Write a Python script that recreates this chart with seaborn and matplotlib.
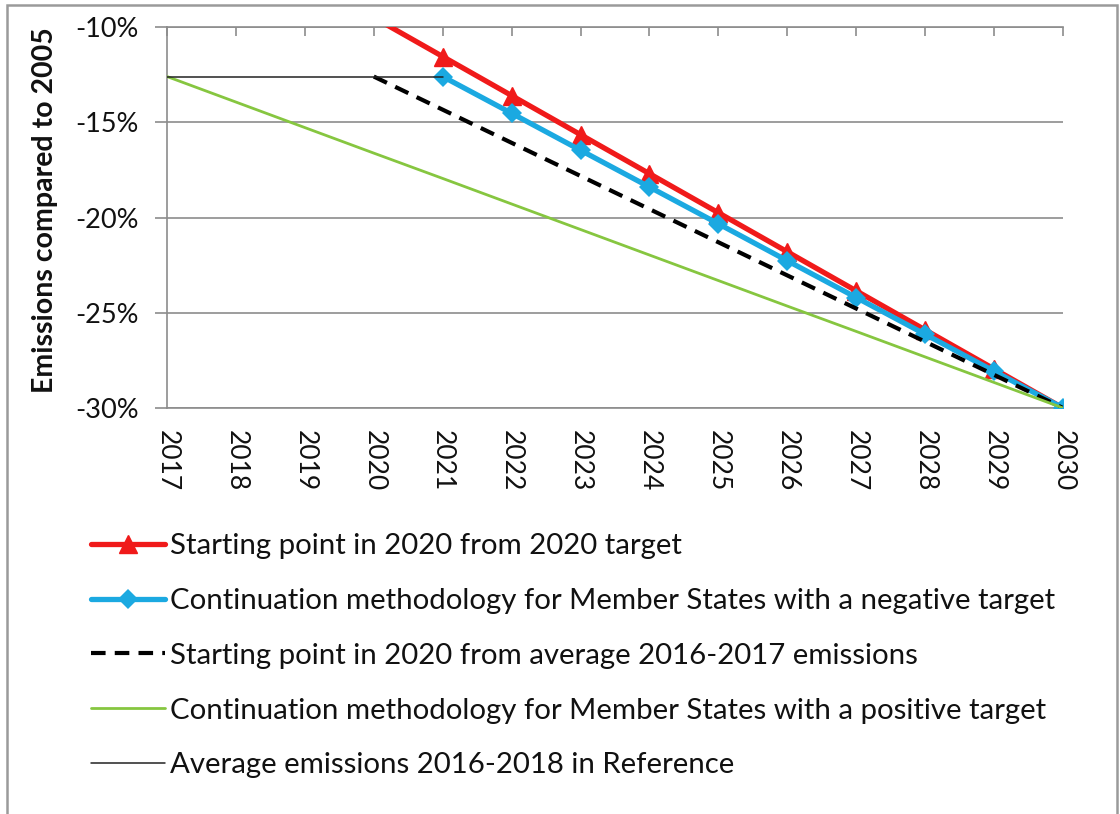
import numpy as np
import pandas as pd
import matplotlib
matplotlib.use("Agg")
import matplotlib.pyplot as plt
import seaborn as sns
from matplotlib.patches import Rectangle
from matplotlib.lines import Line2D
from matplotlib.ticker import FuncFormatter

# Emission trajectories, % change compared to 2005
years_all = [2017, 2018, 2019, 2020, 2021, 2022, 2023, 2024, 2025, 2026, 2027, 2028, 2029, 2030]

red_years = [2020, 2021, 2022, 2023, 2024, 2025, 2026, 2027, 2028, 2029, 2030]
red_vals = [-9.5, -11.55, -13.6, -15.65, -17.7, -19.75, -21.8, -23.85, -25.9, -27.95, -30.0]

blue_years = [2021, 2022, 2023, 2024, 2025, 2026, 2027, 2028, 2029, 2030]
blue_vals = [-12.6, -14.53, -16.47, -18.4, -20.33, -22.27, -24.2, -26.13, -28.07, -30.0]

dash_years = [2020, 2021, 2022, 2023, 2024, 2025, 2026, 2027, 2028, 2029, 2030]
dash_vals = [-12.6, -14.34, -16.08, -17.82, -19.56, -21.3, -23.04, -24.78, -26.52, -28.26, -30.0]

green_years = years_all
green_vals = [-12.6, -13.94, -15.28, -16.62, -17.95, -19.29, -20.63, -21.97, -23.31, -24.65, -25.98,
              -27.32, -28.66, -30.0]

avg_years = [2017, 2018, 2019, 2020, 2021]
avg_vals = [-12.6, -12.6, -12.6, -12.6, -12.6]

labels = [
    "Starting point in 2020 from 2020 target",
    "Continuation methodology for Member States with a negative target",
    "Starting point in 2020 from average 2016-2017 emissions",
    "Continuation methodology for Member States with a positive target",
    "Average emissions 2016-2018 in Reference",
]

y_ticks = [-30, -25, -20, -15, -10]

sns.set_theme(style="white")
plt.rcParams["font.family"] = ["Lato", "DejaVu Sans"]

fig = plt.figure(figsize=(11.2, 8.14), dpi=100)
ax = fig.add_axes([167 / 1120, 1 - 408 / 814, (1063 - 167) / 1120, (408 - 27) / 814])

red_c = "#F01A1A"
blue_c = "#1BA9E1"
green_c = "#86C640"
avg_c = "#222222"
grid_c = "#8C8C8C"
text_c = "#111111"

sns.lineplot(x=red_years, y=red_vals, ax=ax, color=red_c, linewidth=3.8, label=labels[0],
             zorder=3)
ax.plot(red_years[1:], red_vals[1:], linestyle="none", marker="^", markersize=12.5,
        color=red_c, zorder=3)
sns.lineplot(x=blue_years, y=blue_vals, ax=ax, color=blue_c, linewidth=3.8, marker="D",
             markersize=10, markeredgewidth=0, label=labels[1], zorder=4)
sns.lineplot(x=dash_years, y=dash_vals, ax=ax, color="black", linewidth=3.0,
             dashes=(3.5, 2.2), label=labels[2], zorder=5)
sns.lineplot(x=green_years, y=green_vals, ax=ax, color=green_c, linewidth=2.0,
             label=labels[3], zorder=6)
sns.lineplot(x=avg_years, y=avg_vals, ax=ax, color=avg_c, linewidth=1.1,
             label=labels[4], zorder=7)

ax.set_xlim(2017, 2030)
ax.set_ylim(-30, -10)
ax.set_xticks(years_all)
ax.set_xticklabels([str(y) for y in years_all], rotation=270, fontsize=19)
ax.set_yticks(y_ticks)
ax.yaxis.set_major_formatter(FuncFormatter(lambda v, p: f"{int(round(v))}%"))
for lbl in ax.get_yticklabels():
    lbl.set_fontsize(19.5)

ax.grid(axis="y", color=grid_c, linewidth=1.2)
ax.grid(axis="x", visible=False)
ax.spines["right"].set_visible(False)
for side in ["left", "top", "bottom"]:
    ax.spines[side].set_color(grid_c)
    ax.spines[side].set_linewidth(1.2)

ax.tick_params(axis="x", bottom=False, top=True, labelbottom=True, labeltop=False,
               direction="in", length=6.5, width=1.2, color=grid_c, pad=16,
               labelcolor=text_c)
ax.tick_params(axis="y", left=True, direction="out", length=8.5, width=1.2,
               color=grid_c, pad=12, labelcolor=text_c)

ax.set_xlabel("")
ax.set_ylabel("Emissions compared to 2005", fontsize=20.5, fontweight="bold", color=text_c)
ax.yaxis.set_label_coords(-0.122, 0.52)

ax.legend_.remove()
leg_handles = [
    Line2D([], [], color=red_c, linewidth=3.8, marker="^", markersize=12.5),
    Line2D([], [], color=blue_c, linewidth=3.8, marker="D", markersize=10, markeredgewidth=0),
    Line2D([], [], color="black", linewidth=3.0, dashes=(3.5, 2.2)),
    Line2D([], [], color=green_c, linewidth=2.0),
    Line2D([], [], color=avg_c, linewidth=1.1),
]
fig.legend(leg_handles, labels, loc="upper left", bbox_to_anchor=(91 / 1120, 1 - 533 / 814),
           frameon=False, fontsize=21.2, handlelength=2.5, handletextpad=0.2,
           labelspacing=0.98, borderpad=0, borderaxespad=0, labelcolor=text_c)

# outer chart frame
fig.patches.append(Rectangle((7 / 1120, -0.05), (1117 - 7) / 1120, 1.05 - 5 / 814,
                             transform=fig.transFigure, fill=False, edgecolor="#9A9A9A",
                             linewidth=1.8))

fig.savefig("out.png", dpi=100)
